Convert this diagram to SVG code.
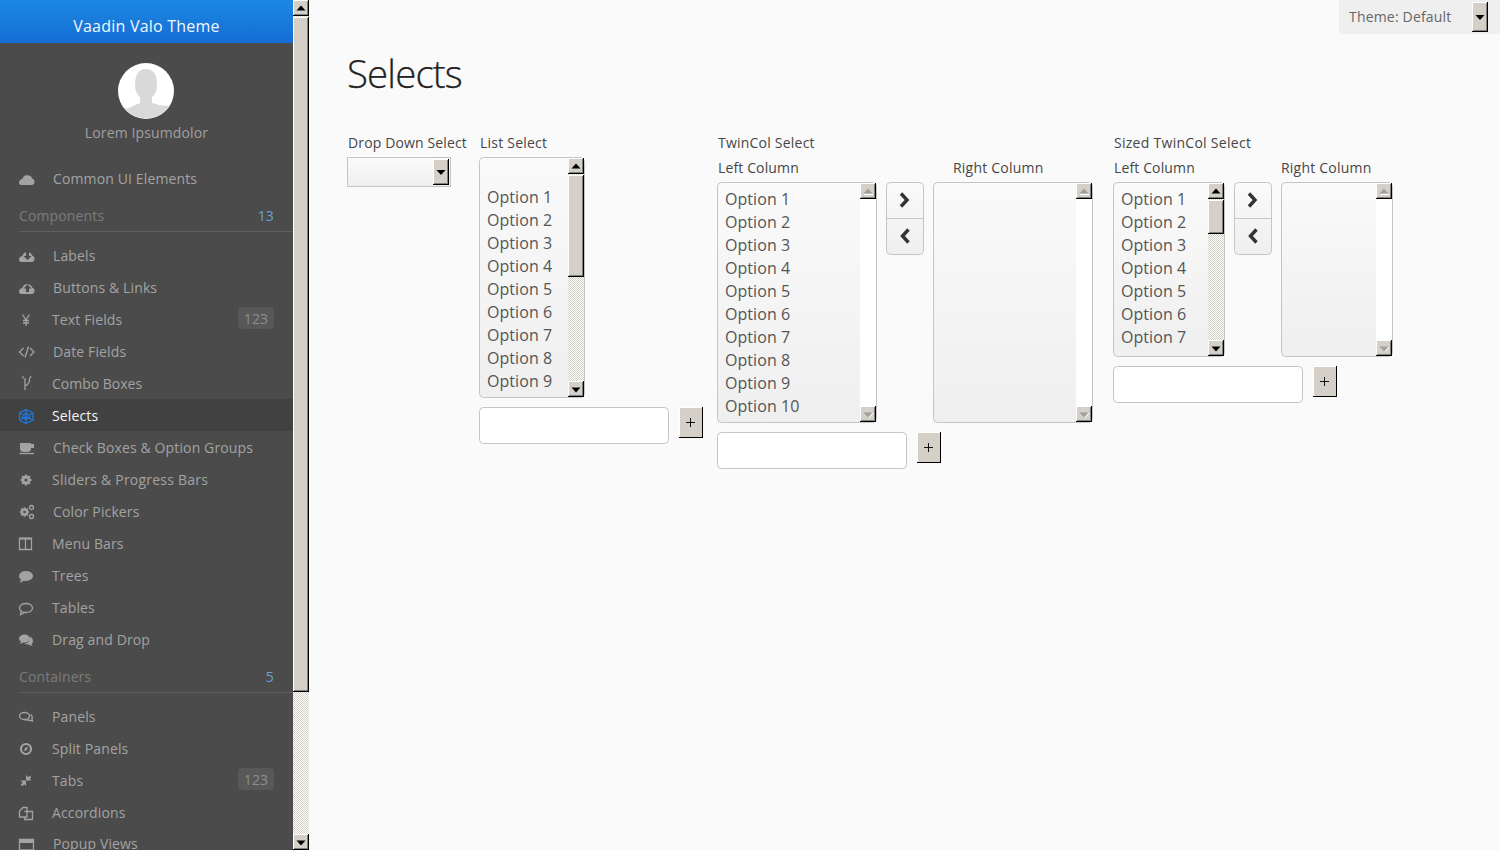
<svg xmlns="http://www.w3.org/2000/svg" xmlns:xlink="http://www.w3.org/1999/xlink" width="1500" height="850" viewBox="0 0 1500 850">
<style>
text{font-family:"Open Sans","Noto Sans",sans-serif;letter-spacing:.13px}
.m{font-size:14px;fill:#a3a3a3}
.sec{font-size:14px;fill:#7b7b7b}
.n{font-size:14px;fill:#6aa0dc}
.bt{font-size:14px;fill:#8e8e8e}
.l{font-size:14px;fill:#464646}
.o{font-size:16px;fill:#555;letter-spacing:.06px}
.w{letter-spacing:.22px}
.ic{fill:#a3a3a3}
.ics{fill:none;stroke:#a3a3a3;stroke-width:1.3}
.box{stroke:#c5c5c5;stroke-width:1}
.tf{fill:#fff;stroke:#c5c5c5;stroke-width:1}
.ch{fill:none;stroke:#333;stroke-width:3.4}
</style>
<defs>
<linearGradient id="hd" x1="0" y1="0" x2="0" y2="1"><stop offset="0" stop-color="#1b88e4"/><stop offset="1" stop-color="#166dd3"/></linearGradient>
<linearGradient id="gr" x1="0" y1="0" x2="0" y2="1"><stop offset="0" stop-color="#fafafa"/><stop offset="1" stop-color="#efefef"/></linearGradient>
<pattern id="chk" width="2" height="2" patternUnits="userSpaceOnUse"><rect width="2" height="2" fill="#fff"/><rect width="1" height="1" fill="#d4d0c8"/><rect x="1" y="1" width="1" height="1" fill="#d4d0c8"/></pattern>
<symbol id="face" viewBox="0 0 16 16" width="16" height="16" overflow="visible"><rect width="16" height="16" fill="#000"/><rect width="15" height="15" fill="#fff"/><rect x="1" y="1" width="14" height="14" fill="#808080"/><rect x="1" y="1" width="13" height="13" fill="#d4d0c8"/></symbol>
<g id="up"><use xlink:href="#face"/><path d="M3.500 10.500L8 5.500L12.500 10.500Z" fill="#000"/></g>
<g id="dn"><use xlink:href="#face"/><path d="M3.500 6.500L8 11.500L12.500 6.500Z" fill="#000"/></g>
<g id="upd"><use xlink:href="#face"/><path d="M3.500 10.500L8 5.500L12.500 10.500Z" fill="#a0a0a0"/><path d="M4 11.500H13" stroke="#fff"/></g>
<g id="dnd"><use xlink:href="#face"/><path d="M3.500 6.500L8 11.500L12.500 6.500Z" fill="#a0a0a0"/><path d="M9 11.500L13 7" stroke="#fff"/></g>
<g id="plus"><rect width="24" height="31" fill="#000"/><rect width="23" height="30" fill="#fff"/><rect x="1" y="1" width="22" height="29" fill="#d4d0c8"/><path d="M7 15.500H16M11.500 11V20" stroke="#111" stroke-width="1"/></g>
<g id="pair"><rect x="0.500" y="0.500" width="37" height="72" rx="4" fill="url(#gr)" stroke="#c5c5c5"/><path d="M1 36.500H37" stroke="#c5c5c5"/><path d="M15 11.500L21 18L15 24.500" class="ch"/><path d="M22.500 47.500L16.500 54L22.500 60.500" class="ch"/></g>
<path id="cloud" d="M0 12C0 9 2 8 3.500 8C4 5 6.500 3.500 9 4.500C11 4 13 5.500 13 7.500C15 8 15.500 10 15.500 11C15.500 13 14 14 13 14H2.500C1 14 0 13 0 12Z"/>
<g id="gear"><circle r="3.300" fill="none" stroke="#a3a3a3" stroke-width="2.400"/><path d="M0 -5.500V5.500M-5.500 0H5.500M-3.900 -3.900L3.900 3.900M3.900 -3.900L-3.900 3.900" stroke="#a3a3a3" stroke-width="1.900"/><circle r="1.600" fill="#4b4b4b"/></g>
</defs>

<rect width="1500" height="850" fill="#fafafa"/>

<g id="sidebar">
<rect width="293" height="850" fill="#4b4b4b"/>
<rect width="293" height="43" fill="url(#hd)"/>
<text x="146.500" y="32" text-anchor="middle" font-size="16" fill="#f2f7fd" style="letter-spacing:.22px">Vaadin Valo Theme</text>
<g id="avatar"><circle cx="146" cy="91" r="28" fill="#fff"/><path d="M127 109Q132 106 140 103L140 97Q135 93 135 85Q135 69 146 69Q157 69 157 85Q157 93 152 97L152 103Q160 106 168 106L170 105A28 28 0 0 1 123 106Z" fill="#d9d9d9"/></g>
<text x="146.500" y="138" text-anchor="middle" font-size="14" fill="#a0a0a0">Lorem Ipsumdolor</text>

<g id="item-common"><use xlink:href="#cloud" x="19" y="171" class="ic"/><text class="m" x="53" y="184">Common UI Elements</text></g>
<g id="section-components"><text class="sec" x="19" y="221">Components</text><text class="n" x="274" y="221" text-anchor="end">13</text><path d="M19 231.500H293" stroke="#606060"/></g>
<g id="item-labels"><use xlink:href="#cloud" x="19" y="248" class="ic"/><path d="M26 252H29V256H31.500L27.500 260L23.500 256H26Z" fill="#4b4b4b"/><text class="m" x="53" y="261">Labels</text></g>
<g id="item-buttons"><use xlink:href="#cloud" x="19" y="280" class="ic"/><path d="M26 292H29V288.500H31.500L27.500 284.500L23.500 288.500H26Z" fill="#4b4b4b"/><text class="m" x="53" y="293">Buttons &amp; Links</text></g>
<g id="item-text"><path d="M22.500 314.500L26 320L29.500 314.500M26 320V326M23 320.500H29M23 323H29" class="ics" stroke-width="1.500"/><text class="m" x="52" y="325">Text Fields</text><rect x="238" y="307" width="36" height="22" rx="4" fill="#585858"/><text class="bt" x="256" y="324" text-anchor="middle">123</text></g>
<g id="item-date"><path d="M23.500 348L19.500 352L23.500 356M30 348L34 352L30 356M28.500 346.500L25 357.500" class="ics"/><text class="m" x="53" y="357">Date Fields</text></g>
<g id="item-combo"><path d="M25 378V390M25 386Q30 384 29.500 378M23.500 378.500Q22 377 23 376M29.500 378Q31.500 377 30.500 376" class="ics" stroke-width="1.700"/><text class="m" x="52" y="389" style="letter-spacing:0">Combo Boxes</text></g>
<g id="item-selects"><rect y="399" width="293" height="32" fill="#414141"/><path d="M26 409.500L33 413V420L26 423.500L19.500 420V413ZM19.500 413L33 420M33 413L19.500 420M26 409.500V423.500M22 416.500L26 413L30 416.500L26 420Z" fill="none" stroke="#1f76d6" stroke-width="1.300"/><text x="52" y="421" font-size="14" fill="#f5f5f5">Selects</text></g>
<g id="item-check"><path d="M20 443H31V449Q31 452 27 452H24Q20 452 20 449ZM31 444H34V448H31" class="ic"/><path d="M19.500 453.500H34" stroke="#a3a3a3" stroke-width="1.300"/><text class="m" x="53" y="453">Check Boxes &amp; Option Groups</text></g>
<g id="item-sliders"><use xlink:href="#gear" x="26" y="480"/><text class="m w" x="52" y="485">Sliders &amp; Progress Bars</text></g>
<g id="item-color"><g transform="translate(24.500 512) scale(.85)"><use xlink:href="#gear"/></g><circle cx="31.500" cy="507.500" r="2" class="ics"/><circle cx="31.500" cy="516.500" r="2" class="ics"/><text class="m" x="53" y="517">Color Pickers</text></g>
<g id="item-menu"><path d="M19.500 538.500H31.500V549.500H19.500ZM25.500 538.500V549.500" class="ics"/><path d="M19.500 538.500H31.500" stroke="#a3a3a3" stroke-width="2"/><text class="m" x="52" y="549">Menu Bars</text></g>
<g id="item-trees"><ellipse cx="26" cy="576" rx="7" ry="5" class="ic"/><path d="M21 579L20 583L25 580Z" class="ic"/><text class="m" x="52" y="581">Trees</text></g>
<g id="item-tables"><ellipse cx="26" cy="608" rx="6.500" ry="4.500" class="ics"/><path d="M21.500 611L20.500 614.500L25 612.500" class="ics"/><text class="m" x="52" y="613">Tables</text></g>
<g id="item-drag"><ellipse cx="24.500" cy="638.500" rx="5.500" ry="4" class="ic"/><path d="M21 641L20 644L24 642Z" class="ic"/><path d="M30.500 636.500Q33 638 33 641Q33 643 31.500 644L32.500 646L28 644.500Q25.500 644.500 24.500 643.500Q30 643 30.500 636.500Z" class="ic"/><text class="m" x="52" y="645">Drag and Drop</text></g>
<g id="section-containers"><text class="sec" x="19" y="682">Containers</text><text class="n" x="274" y="682" text-anchor="end">5</text><path d="M19 692.500H293" stroke="#606060"/></g>
<g id="item-panels"><ellipse cx="24.500" cy="716" rx="5" ry="3.500" class="ics"/><path d="M30.500 714.500Q33 716 32 719L32.500 721L28 720Q25 720 24 719.500" class="ics"/><text class="m" x="52" y="722">Panels</text></g>
<g id="item-split"><circle cx="26" cy="749" r="5" fill="none" stroke="#a3a3a3" stroke-width="2.200"/><path d="M24 751L25 748L28 747L27 750Z" class="ic"/><text class="m" x="52" y="754">Split Panels</text></g>
<g id="item-tabs"><path d="M21.500 785.500L24.500 782.500M30.500 776.500L27.500 779.500" stroke="#a3a3a3" stroke-width="2.200"/><path d="M20.500 780.500H26V786ZM26 775V780.500H31.500Z" class="ic"/><text class="m" x="52" y="786">Tabs</text><rect x="238" y="768" width="36" height="22" rx="4" fill="#585858"/><text class="bt" x="256" y="785" text-anchor="middle">123</text></g>
<g id="item-accordions"><path d="M19.500 811L23 807.500H27V811M24.500 811.500L28 811.500H32.500V819.500H24.500V817M19.500 811V817H27V811.500" class="ics"/><text class="m" x="52" y="818">Accordions</text></g>
<g id="item-popup"><path d="M19.500 839.500H33.500V850H19.500Z" fill="none" stroke="#a3a3a3" stroke-width="1.300"/><rect x="19" y="839" width="15" height="4" class="ic"/><text class="m" x="53" y="849">Popup Views</text></g>
</g>

<g id="page-scrollbar">
<rect x="293" y="0" width="16" height="850" fill="url(#chk)"/>
<use xlink:href="#up" x="293" y="0"/>
<g id="page-thumb"><rect x="293" y="17" width="16" height="675" fill="#000"/><rect x="293" y="17" width="15" height="674" fill="#fff"/><rect x="294" y="18" width="14" height="673" fill="#808080"/><rect x="294" y="18" width="13" height="672" fill="#d4d0c8"/></g>
<use xlink:href="#dn" x="293" y="834"/>
</g>

<g id="theme-select">
<path d="M1339 0H1500V34H1343Q1339 34 1339 30Z" fill="#efefef"/>
<text x="1349" y="22" font-size="14" fill="#666" style="letter-spacing:.18px">Theme: Default</text>
<svg x="1472" y="2" width="16" height="30" viewBox="0 0 16 30"><rect width="16" height="30" fill="#000"/><rect width="15" height="29" fill="#fff"/><rect x="1" y="1" width="14" height="28" fill="#808080"/><rect x="1" y="1" width="13" height="27" fill="#d4d0c8"/><path d="M3.500 13L8 18L12.500 13Z" fill="#000"/></svg>
</g>

<text x="347" y="88" font-size="38.400" font-weight="300" style="letter-spacing:-.85px;stroke:#222;stroke-width:.25px" fill="#222">Selects</text>

<g id="dropdown">
<text class="l" x="348" y="148">Drop Down Select</text>
<rect class="box" x="347.500" y="157.500" width="103" height="29" fill="url(#gr)"/>
<svg x="433" y="159" width="16" height="26" viewBox="0 0 16 26"><rect width="16" height="26" fill="#000"/><rect width="15" height="25" fill="#fff"/><rect x="1" y="1" width="14" height="24" fill="#808080"/><rect x="1" y="1" width="13" height="23" fill="#d4d0c8"/><path d="M3.500 11L8 16L12.500 11Z" fill="#000"/></svg>
</g>

<g id="list-select">
<text class="l w" x="480" y="148">List Select</text>
<rect class="box" x="479.500" y="157.500" width="105" height="240" rx="4" fill="url(#gr)"/>
<rect x="568" y="158" width="16" height="239" fill="url(#chk)"/>
<use xlink:href="#up" x="568" y="158"/>
<svg x="568" y="175" width="16" height="102" viewBox="0 0 16 102"><rect width="16" height="102" fill="#000"/><rect width="15" height="101" fill="#fff"/><rect x="1" y="1" width="14" height="100" fill="#808080"/><rect x="1" y="1" width="13" height="99" fill="#d4d0c8"/></svg>
<use xlink:href="#dn" x="568" y="381"/>
<text class="o" x="487" y="203">Option 1</text><text class="o" x="487" y="226">Option 2</text><text class="o" x="487" y="249">Option 3</text><text class="o" x="487" y="272">Option 4</text><text class="o" x="487" y="295">Option 5</text><text class="o" x="487" y="318">Option 6</text><text class="o" x="487" y="341">Option 7</text><text class="o" x="487" y="364">Option 8</text><text class="o" x="487" y="387">Option 9</text>
<rect class="tf" x="479.500" y="407.500" width="189" height="36" rx="4"/>
<use xlink:href="#plus" x="679" y="407"/>
</g>

<g id="twincol">
<text class="l w" x="718" y="148">TwinCol Select</text>
<text class="l" x="718" y="173">Left Column</text>
<text class="l w" x="953" y="173">Right Column</text>
<rect class="box" x="717.500" y="182.500" width="159" height="240" rx="4" fill="url(#gr)"/>
<rect x="860" y="183" width="16" height="239" fill="#fff"/>
<use xlink:href="#upd" x="860" y="183"/><use xlink:href="#dnd" x="860" y="406"/>
<text class="o" x="725" y="205">Option 1</text><text class="o" x="725" y="228">Option 2</text><text class="o" x="725" y="251">Option 3</text><text class="o" x="725" y="274">Option 4</text><text class="o" x="725" y="297">Option 5</text><text class="o" x="725" y="320">Option 6</text><text class="o" x="725" y="343">Option 7</text><text class="o" x="725" y="366">Option 8</text><text class="o" x="725" y="389">Option 9</text><text class="o" x="725" y="412">Option 10</text>
<use xlink:href="#pair" x="886" y="182"/>
<rect class="box" x="933.500" y="182.500" width="159" height="240" rx="4" fill="url(#gr)"/>
<rect x="1076" y="183" width="16" height="239" fill="#fff"/>
<use xlink:href="#upd" x="1076" y="183"/><use xlink:href="#dnd" x="1076" y="406"/>
<rect class="tf" x="717.500" y="432.500" width="189" height="36" rx="4"/>
<use xlink:href="#plus" x="917" y="432"/>
</g>

<g id="sized-twincol">
<text class="l" x="1114" y="148" style="letter-spacing:.28px">Sized TwinCol Select</text>
<text class="l" x="1114" y="173">Left Column</text>
<text class="l w" x="1281" y="173">Right Column</text>
<rect class="box" x="1113.500" y="182.500" width="111" height="174" rx="4" fill="url(#gr)"/>
<rect x="1208" y="183" width="16" height="173" fill="url(#chk)"/>
<use xlink:href="#up" x="1208" y="183"/>
<svg x="1208" y="200" width="16" height="34" viewBox="0 0 16 34"><rect width="16" height="34" fill="#000"/><rect width="15" height="33" fill="#fff"/><rect x="1" y="1" width="14" height="32" fill="#808080"/><rect x="1" y="1" width="13" height="31" fill="#d4d0c8"/></svg>
<use xlink:href="#dn" x="1208" y="340"/>
<text class="o" x="1121" y="205">Option 1</text><text class="o" x="1121" y="228">Option 2</text><text class="o" x="1121" y="251">Option 3</text><text class="o" x="1121" y="274">Option 4</text><text class="o" x="1121" y="297">Option 5</text><text class="o" x="1121" y="320">Option 6</text><text class="o" x="1121" y="343">Option 7</text>
<use xlink:href="#pair" x="1234" y="182"/>
<rect class="box" x="1281.500" y="182.500" width="111" height="174" rx="4" fill="url(#gr)"/>
<rect x="1376" y="183" width="16" height="173" fill="#fff"/>
<use xlink:href="#upd" x="1376" y="183"/><use xlink:href="#dnd" x="1376" y="340"/>
<rect class="tf" x="1113.500" y="366.500" width="189" height="36" rx="4"/>
<use xlink:href="#plus" x="1313" y="366"/>
</g>
</svg>
